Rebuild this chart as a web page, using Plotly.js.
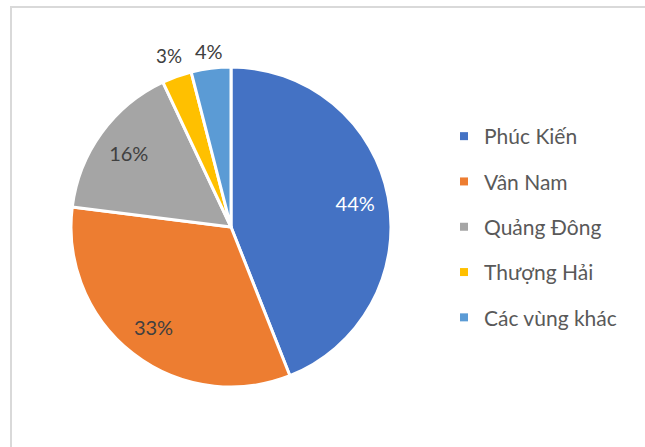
<!DOCTYPE html>
<html><head><meta charset="utf-8">
<script src="https://cdn.plot.ly/plotly-3.0.1.min.js"></script>
<style>
html,body{margin:0;padding:0;background:#fff;overflow:hidden}
#frame{position:absolute;left:10px;top:6px;width:800px;height:600px;border:2px solid #d9d9d9;pointer-events:none;z-index:5}
#chart{position:absolute;left:0;top:0;width:645px;height:447px}
</style></head>
<body>
<div id="chart"></div>
<div id="frame"></div>
<script>
const regions = ["Phúc Kiến", "Vân Nam", "Quảng Đông", "Thượng Hải", "Các vùng khác"];
const shares = [44, 33, 16, 3, 4];
const colors = ["#4472C4", "#ED7D31", "#A5A5A5", "#FFC000", "#5B9BD5"];
// which labels sit on the slice (inner ring) and which sit just outside it (outer ring)
const innerLabel = [true, true, true, false, false];
const labelColors = ["#ffffff", "#404040", "#404040", "#404040", "#404040"];

const FONT = "Lato, 'Noto Sans', sans-serif";
const CX = 231, CY = 227, R = 160, R2 = 200;
const dom = (r) => ({x: [(CX-r)/645, (CX+r)/645], y: [1-(CY+r)/447, 1-(CY-r)/447]});
const transparent = regions.map(() => "rgba(0,0,0,0)");
const base = {
  type: "pie", labels: regions, values: shares, sort: false,
  direction: "clockwise", rotation: 0, showlegend: false, hoverinfo: "skip"
};
const traces = [
  Object.assign({}, base, {
    marker: {colors: colors, line: {color: "#ffffff", width: 3}},
    textinfo: "none", domain: dom(R), hoverinfo: "label+percent"
  }),
  Object.assign({}, base, {
    hole: 0.58,
    marker: {colors: transparent, line: {width: 0}},
    texttemplate: innerLabel.map(f => f ? "%{percent:.0%}" : ""),
    textposition: "inside", insidetextorientation: "horizontal",
    insidetextfont: {family: FONT, size: 20, color: labelColors},
    domain: dom(R)
  }),
  Object.assign({}, base, {
    hole: 0.77,
    marker: {colors: transparent, line: {width: 0}},
    texttemplate: innerLabel.map(f => f ? "" : "%{percent:.0%}"),
    textposition: "inside", insidetextorientation: "horizontal",
    insidetextfont: {family: FONT, size: 20, color: labelColors},
    domain: dom(R2)
  })
];
regions.forEach((r, i) => {
  traces.push({
    type: "scatter", mode: "markers", x: [null], y: [null],
    name: r, legendgroup: "g" + i,
    marker: {symbol: "square", size: 8, color: colors[i]},
    showlegend: true, hoverinfo: "skip"
  });
});
const layout = {
  width: 645, height: 447,
  margin: {l: 0, r: 0, t: 0, b: 0},
  paper_bgcolor: "#ffffff", plot_bgcolor: "rgba(0,0,0,0)",
  xaxis: {visible: false}, yaxis: {visible: false},
  font: {family: FONT, color: "#595959"},
  legend: {
    x: 444/645, y: 1-116/447, xanchor: "left", yanchor: "top",
    font: {family: FONT, size: 21, color: "#595959"},
    tracegroupgap: 15, itemwidth: 30,
    bgcolor: "rgba(0,0,0,0)"
  }
};
Plotly.newPlot("chart", traces, layout, {staticPlot: true, displayModeBar: false});
</script>
</body></html>
